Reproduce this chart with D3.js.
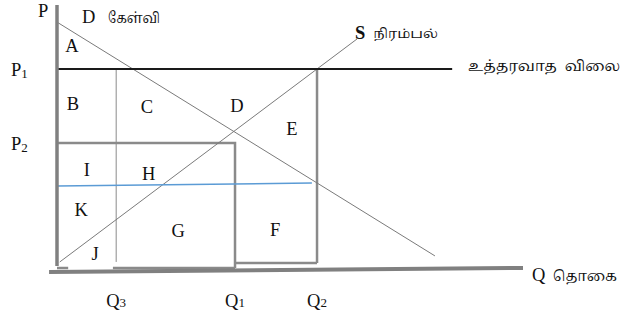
<!DOCTYPE html>
<html>
<head>
<meta charset="utf-8">
<script src="https://cdn.jsdelivr.net/npm/d3@7"></script>
<style>
body { margin:0; background:#fff; }
text { font-family:"Liberation Serif","Times New Roman",serif; fill:#111; }
.ta { font-family:"Noto Serif Tamil","Latha","Noto Sans Tamil","Lohit Tamil",sans-serif; }
</style>
</head>
<body>
<div class="plot"></div>
<script>
var W = 638, H = 327;

// quantities / prices (0-10 units)
var qNames = ["Q3", "Q1", "Q2"],
	qValues = [1.27, 3.82, 5.58];
var pNames = ["P1", "P2"],
	pValues = [7.57, 4.75];
var demand = [[0, 9.35], [8.11, 0.46]],
	supply = [[0.06, 0.23], [6.44, 8.71]],
	floorLine = [[0, 3.12], [5.47, 3.23]];
var areaNames = ["A","B","C","D","E","I","H","K","G","F","J"],
	areaQ = [0.32, 0.34, 1.93, 3.86, 5.04, 0.64, 1.97, 0.52, 2.6, 4.68, 0.82],
	areaP = [8.21, 6.0, 5.89, 5.93, 5.06, 3.49, 3.35, 1.98, 1.18, 1.22, 0.30];

var x = d3.scaleLinear().domain([0, 10]).range([57, 523]),
	y = d3.scaleLinear().domain([0, 10]).range([268, 5]);

var svg = d3.select('.plot').append('svg')
	.attr('width', W).attr('height', H);

var line = d3.line().x(d=>x(d[0])).y(d=>y(d[1]));

function seg(pts, col, sw){
	svg.append('path').attr('d', line(pts))
		.attr('fill','none').attr('stroke', col).attr('stroke-width', sw);
}

var q3 = qValues[0], q1 = qValues[1], q2 = qValues[2],
	p1 = pValues[0], p2 = pValues[1];

// boxes
seg([[0, p2], [q1, p2], [q1, 0]], '#8a8a8a', 2.5);
seg([[0, 0], [0.24, 0]], '#8a8a8a', 2.5);
seg([[1.2, 0], [q1, 0]], '#8a8a8a', 2.5);
seg([[q1, 0.19], [q2, 0.19]], '#8a8a8a', 2.5);
seg([[q2, p1], [q2, 0.19]], '#8a8a8a', 2.5);
seg([[q3, p1], [q3, 0.23]], '#8a8a8a', 1);

// curves
seg(demand, '#7a7a7a', 1);
seg(supply, '#7a7a7a', 1);
seg(floorLine, '#5b9bd5', 1.5);
seg([[0, p1], [8.48, p1]], '#1a1a1a', 2);

// axes
seg([[0, 10], [0, 0.08]], '#808080', 3.5);
seg([[-0.17, -0.15], [10, 0]], '#808080', 4);

// area letters
svg.selectAll('.area').data(areaNames).enter().append('text')
	.attr('class','area')
	.attr('x', (d,i)=>x(areaQ[i])).attr('y', (d,i)=>y(areaP[i]))
	.attr('text-anchor','middle').attr('font-size', 18.5)
	.text(d=>d);

// Q ticks
var qt = svg.selectAll('.qt').data(qNames).enter().append('text')
	.attr('class','qt')
	.attr('x', (d,i)=>x(qValues[i]) - 10).attr('y', 307)
	.attr('font-size', 18.5);
qt.append('tspan').text(d=>d[0]);
qt.append('tspan').attr('font-size', 13).text(d=>d[1]);

var pt = svg.selectAll('.pt').data(pNames).enter().append('text')
	.attr('class','pt')
	.attr('x', 11).attr('y', (d,i)=>y(pValues[i]) + 7)
	.attr('font-size', 18.5);
pt.append('tspan').text(d=>d[0]);
pt.append('tspan').attr('font-size', 13).attr('dy', 2).text(d=>d[1]);

// axis titles
svg.append('text').attr('x', 38).attr('y', 17).attr('font-size', 18.5).text('P');
svg.append('text').attr('x', 82).attr('y', 23).attr('font-size', 18.5).text('D');
svg.append('text').attr('class','ta').attr('x', 108).attr('y', 23)
	.attr('font-size', 15).attr('textLength', 52).attr('lengthAdjust','spacingAndGlyphs')
	.text('கேள்வி');

svg.append('text').attr('x', 355).attr('y', 39).attr('font-size', 18.5)
	.attr('font-weight','bold').text('S');
svg.append('text').attr('class','ta').attr('x', 373).attr('y', 38)
	.attr('font-size', 13).attr('textLength', 65).attr('lengthAdjust','spacingAndGlyphs')
	.text('நிரம்பல்');

svg.append('text').attr('class','ta').attr('x', 468).attr('y', 71)
	.attr('font-size', 15).attr('textLength', 152).attr('lengthAdjust','spacingAndGlyphs')
	.style('white-space','pre')
	.text('உத்தரவாத  விலை');

svg.append('text').attr('x', 532).attr('y', 281).attr('font-size', 18.5).text('Q');
svg.append('text').attr('class','ta').attr('x', 553).attr('y', 281)
	.attr('font-size', 15).attr('textLength', 64).attr('lengthAdjust','spacingAndGlyphs')
	.text('தொகை');
</script>
</body>
</html>
